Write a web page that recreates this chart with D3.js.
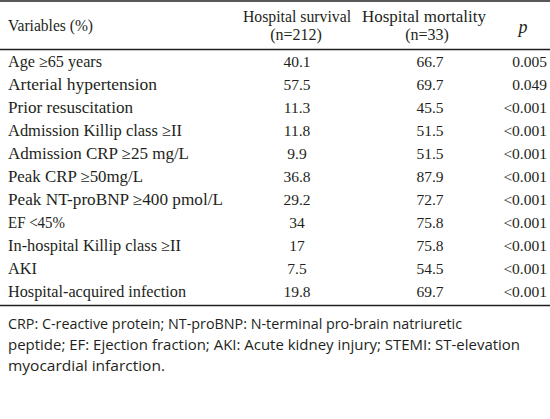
<!DOCTYPE html>
<html>
<head>
<meta charset="utf-8">
<script src="https://cdn.jsdelivr.net/npm/d3@7/dist/d3.min.js"></script>
<style>
  html, body { margin: 0; padding: 0; background: #fff; }
  svg { display: block; }
</style>
</head>
<body>
<svg id="chart" width="550" height="419"></svg>
<script>
// ---- data ----
const variables = [
  "Age \u226565 years",
  "Arterial hypertension",
  "Prior resuscitation",
  "Admission Killip class \u2265II",
  "Admission CRP \u226525 mg/L",
  "Peak CRP \u226550mg/L",
  "Peak NT-proBNP \u2265400 pmol/L",
  "EF <45%",
  "In-hospital Killip class \u2265II",
  "AKI",
  "Hospital-acquired infection"
];
const survival = [40.1, 57.5, 11.3, 11.8, 9.9, 36.8, 29.2, 34, 17, 7.5, 19.8];
const mortality = [66.7, 69.7, 45.5, 51.5, 51.5, 87.9, 72.7, 75.8, 75.8, 54.5, 69.7];
const pValues = ["0.005", "0.049", "<0.001", "<0.001", "<0.001", "<0.001", "<0.001", "<0.001", "<0.001", "<0.001", "<0.001"];
const headerLabel = "Variables (%)";
const survivalHeader = ["Hospital survival", "(n=212)"];
const mortalityHeader = ["Hospital mortality", "(n=33)"];
const pHeader = "p";
const footnote = [
  "CRP: C-reactive protein; NT-proBNP: N-terminal pro-brain natriuretic",
  "peptide; EF: Ejection fraction; AKI: Acute kidney injury; STEMI: ST-elevation",
  "myocardial infarction."
];

// ---- layout ----
const W = 550;
const svg = d3.select("#chart");
const ink = "#231f20";
const serif = "'Liberation Serif', 'Times New Roman', serif";
const sans = "'Open Sans', 'Noto Sans', sans-serif";

// measured text extents in the reference (layout only)
const labelWidths = [94, 149, 125, 174, 181, 135, 215, 57, 173, 29, 178];
const footWidths = [454, 512, 157];

const columns = ["var", "surv", "mort", "p"];
const x = d3.scaleOrdinal().domain(columns).range([8, 297, 430, 526]);

const y = d3.scaleBand()
  .domain(d3.range(variables.length))
  .range([50, 303])
  .paddingInner(0).paddingOuter(0);

// rules
const rule = (yy, w) => svg.append("line")
  .attr("x1", 0).attr("x2", W).attr("y1", yy).attr("y2", yy)
  .attr("stroke", ink).attr("stroke-width", w);
rule(1, 1.5);
rule(49.5, 1.3);
rule(y.range()[1] + 2.5, 1.3);

// header
const hdr = svg.append("g").attr("font-family", serif).attr("font-size", 16).attr("fill", ink);
hdr.append("text").attr("x", x("var")).attr("y", 25).attr("dy", "0.35em")
  .attr("textLength", 85).attr("lengthAdjust", "spacingAndGlyphs").text(headerLabel);
hdr.selectAll(".hs").data(survivalHeader).join("text")
  .attr("x", (d, i) => x("surv") - (i === 0 ? 0 : 1)).attr("y", (d, i) => 16 + i * 18).attr("dy", "0.35em")
  .attr("text-anchor", "middle").text(d => d)
  .filter((d, i) => i === 0).attr("textLength", 108).attr("lengthAdjust", "spacingAndGlyphs");
hdr.selectAll(".hm").data(mortalityHeader).join("text")
  .attr("x", (d, i) => x("mort") - (i === 0 ? 6 : 3)).attr("y", (d, i) => 16 + i * 18).attr("dy", "0.35em")
  .attr("text-anchor", "middle").text(d => d)
  .filter((d, i) => i === 0).attr("textLength", 124).attr("lengthAdjust", "spacingAndGlyphs");
hdr.append("text").attr("x", x("p") - 3).attr("y", 27).attr("dy", "0.35em")
  .attr("text-anchor", "middle").attr("font-style", "italic").attr("font-size", 18).text(pHeader);

// body rows
const rows = svg.append("g").attr("font-family", serif).attr("font-size", 16).attr("fill", ink)
  .selectAll("g").data(variables).join("g")
  .attr("transform", (d, i) => `translate(0,${y(i) + y.bandwidth() / 2})`);
rows.append("text").attr("x", x("var")).attr("dy", "0.35em")
  .attr("textLength", (d, i) => labelWidths[i]).attr("lengthAdjust", "spacingAndGlyphs")
  .text(d => d);
rows.append("text").attr("x", x("surv")).attr("dy", "0.35em").attr("text-anchor", "middle")
  .attr("font-size", 15.5).text((d, i) => String(survival[i]));
rows.append("text").attr("x", x("mort")).attr("dy", "0.35em").attr("text-anchor", "middle")
  .attr("font-size", 15.5).text((d, i) => String(mortality[i]));
rows.append("text").attr("x", x("p") + 21).attr("dy", "0.35em").attr("text-anchor", "end")
  .attr("font-size", 15.5).text((d, i) => pValues[i]);

// footnote
svg.append("g").attr("font-family", sans).attr("font-size", 14).attr("fill", ink)
  .selectAll("text").data(footnote).join("text")
  .attr("x", 8).attr("y", (d, i) => y.range()[1] + 21 + i * 21).attr("dy", "0.35em")
  .attr("textLength", (d, i) => footWidths[i]).attr("lengthAdjust", "spacingAndGlyphs")
  .text(d => d);
</script>
</body>
</html>
